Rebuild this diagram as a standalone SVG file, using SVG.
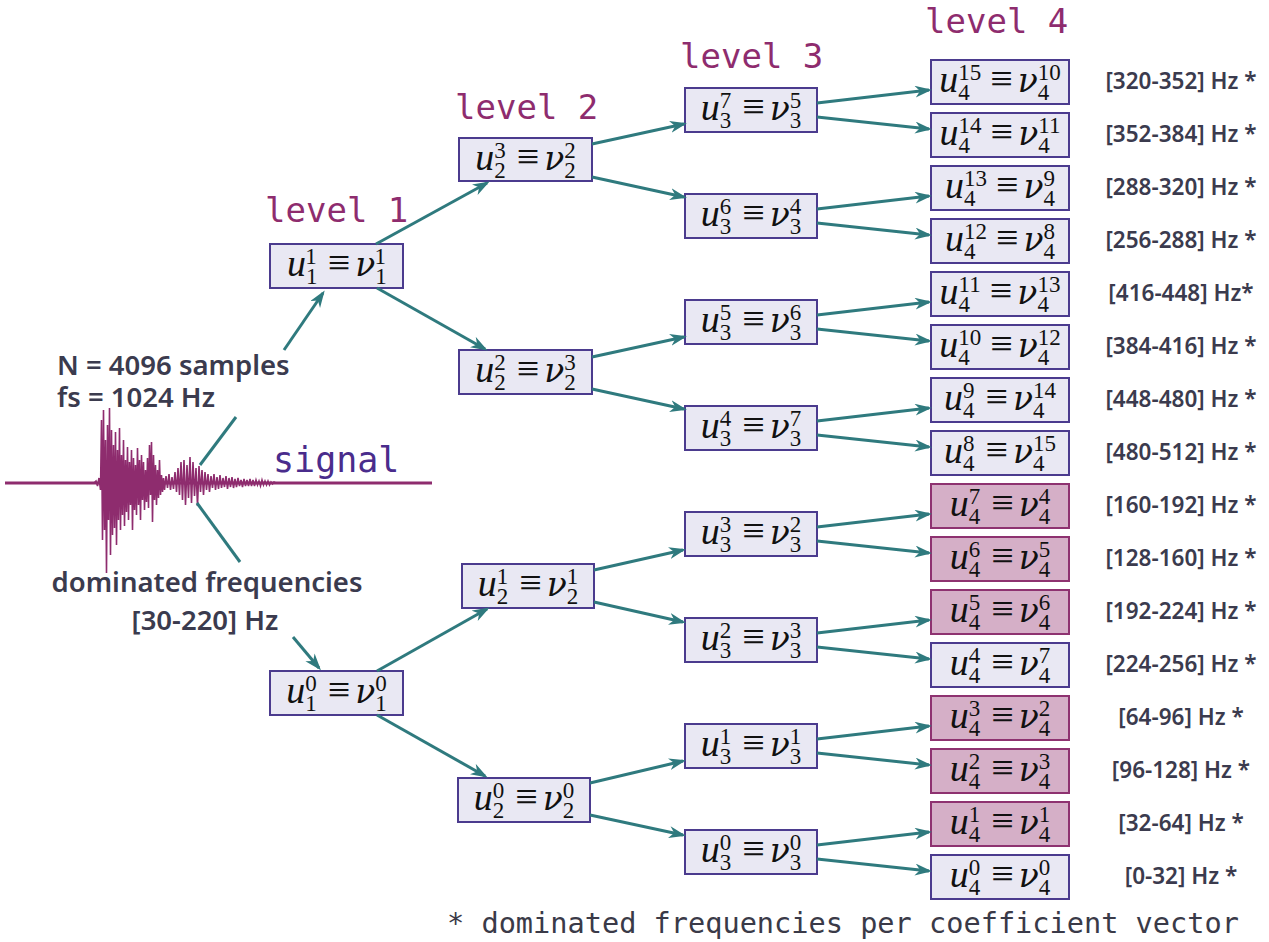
<svg xmlns="http://www.w3.org/2000/svg" width="1269" height="942" viewBox="0 0 1269 942">
<style>
.b{fill:#e9e8f3;stroke:#4b3b8e;stroke-width:2}
.p{fill:#d5afc7;stroke:#8e3270;stroke-width:2}
.mt{font-family:"Liberation Serif",serif;font-size:38px;text-anchor:middle;fill:#111}
.i{font-style:italic}
.n{font-family:"DejaVu Serif",serif;font-style:italic;font-size:33px}
.s{font-size:23px}
.eq{font-size:40px}
.hz{font-family:"Noto Sans",sans-serif;font-weight:600;font-size:22.5px;fill:#3b3b4e;text-anchor:middle}
.lt{font-family:"Noto Sans",sans-serif;font-weight:600;font-size:27.5px;fill:#3b3b4e}
.lv{font-family:"DejaVu Sans Mono",monospace;font-size:34px;fill:#8e2c6e}
.c path{fill:none;stroke:#2f7a7e;stroke-width:3}
.c path.a{marker-end:url(#ah)}
</style>
<defs>
<marker id="ah" markerUnits="userSpaceOnUse" markerWidth="18" markerHeight="13" refX="14" refY="6" orient="auto">
<path d="M0,0 L17,6 L0,12 L5,6 z" fill="#2f7a7e"/>
</marker>
</defs>
<rect width="1269" height="942" fill="#fff"/>

<g id="signal">
<path d="M5,483 H432" stroke="#8e2c6e" stroke-width="3" fill="none"/>
<path fill="none" stroke="#8e2c6e" stroke-width="1.6" d="M94,483 L96,481 L97.5,486 L99,478 L100.5,490 L101.5,420 L102.5,540 L103.5,410 L104.5,530 L105.5,440 L106.5,573 L107.5,425 L108.5,520 L109.5,408 L110.5,555 L111.5,430 L112.5,535 L113.5,445 L114.5,528 L115.5,432 L116.5,545 L117.5,450 L118.5,520 L119.5,428 L120.5,530 L121.5,455 L122.5,515 L123.5,440 L124.5,526 L125.5,460 L126.5,512 L127.5,447 L128.5,520 L129.5,462 L130.5,505 L131.5,450 L132.5,530 L133.5,458 L134.5,510 L135.5,465 L136.5,515 L137.5,448 L138.5,505 L139.5,460 L140.5,520 L141.5,455 L142.5,500 L143.5,462 L144.5,510 L145.5,470 L146.5,502 L147.5,458 L148.5,508 L149.5,445 L150.5,495 L151.5,442 L152.5,522 L153.5,455 L154.5,500 L155.5,465 L156.5,505 L157.5,470 L158.5,498 L159.5,460 L160.5,495 L161.5,475 L162.5,492 L163.5,478 L164.5,490 L166,476 L167.5,488 L169,474 L170.5,490 L172,477 L173.5,489 L175,472 L176.5,492 L178,468 L179.5,495 L181,462 L182.5,500 L184,460 L185.5,505 L187,465 L188.5,498 L190,457 L191.5,503 L193,462 L194.5,496 L196,468 L197.5,506 L199,466 L200.5,492 L202,470 L203.5,495 L205,472 L206.5,490 L208,474 L209.5,492 L211,476 L212.5,488 L214,474 L215.5,490 L217,477 L218.5,489 L220,475 L221.5,488 L223,478 L224.5,487 L226,476 L227.5,489 L229,478 L230.5,487 L232,477 L233.5,488 L235,479 L236.5,487 L238,478 L239.5,486 L241,480 L242.5,487 L244,479 L245.5,486 L247,480 L248.5,486 L250,479 L251.5,486 L253,480 L254.5,486 L256,480 L257.5,485 L259,481 L260.5,486 L262,480 L263.5,485 L265,481 L266.5,485 L268,481 L269.5,485 L271,482 L272.5,484 L274,482 L276,483"/>
<text x="273" y="472" style="font-family:'DejaVu Sans Mono',monospace;font-size:35px;fill:#4a2c8c">signal</text>
<text class="lt" x="57" y="375">N = 4096 samples</text>
<text class="lt" x="57" y="407">fs = 1024 Hz</text>
<text class="lt" x="207" y="592" text-anchor="middle">dominated frequencies</text>
<text class="lt" x="205" y="630" text-anchor="middle">[30-220] Hz</text>
</g>

<g id="levels">
<text class="lv" x="265" y="222">level 1</text>
<text class="lv" x="455" y="119">level 2</text>
<text class="lv" x="680" y="68">level 3</text>
<text class="lv" x="925" y="33">level 4</text>
</g>

<g id="n1_1"><rect class="b" x="270" y="244" width="133" height="44"/><text class="mt" x="336.5" y="276"><tspan class="i">u</tspan><tspan class="s" dy="8">1</tspan><tspan class="s" dx="-11.5" dy="-20">1</tspan><tspan class="eq" dx="11" dy="12">≡</tspan><tspan class="n" dx="5">ν</tspan><tspan class="s" dy="8">1</tspan><tspan class="s" dx="-11.5" dy="-20">1</tspan></text></g>
<g id="n1_0"><rect class="b" x="270" y="671" width="133" height="44"/><text class="mt" x="336.5" y="703"><tspan class="i">u</tspan><tspan class="s" dy="8">1</tspan><tspan class="s" dx="-11.5" dy="-20">0</tspan><tspan class="eq" dx="11" dy="12">≡</tspan><tspan class="n" dx="5">ν</tspan><tspan class="s" dy="8">1</tspan><tspan class="s" dx="-11.5" dy="-20">0</tspan></text></g>

<g id="n2_3"><rect class="b" x="459" y="138" width="133" height="43"/><text class="mt" x="525.5" y="170"><tspan class="i">u</tspan><tspan class="s" dy="8">2</tspan><tspan class="s" dx="-11.5" dy="-20">3</tspan><tspan class="eq" dx="11" dy="12">≡</tspan><tspan class="n" dx="5">ν</tspan><tspan class="s" dy="8">2</tspan><tspan class="s" dx="-11.5" dy="-20">2</tspan></text></g>
<g id="n2_2"><rect class="b" x="459" y="350" width="133" height="44"/><text class="mt" x="525.5" y="382"><tspan class="i">u</tspan><tspan class="s" dy="8">2</tspan><tspan class="s" dx="-11.5" dy="-20">2</tspan><tspan class="eq" dx="11" dy="12">≡</tspan><tspan class="n" dx="5">ν</tspan><tspan class="s" dy="8">2</tspan><tspan class="s" dx="-11.5" dy="-20">3</tspan></text></g>
<g id="n2_1"><rect class="b" x="462" y="564" width="132" height="44"/><text class="mt" x="528" y="596"><tspan class="i">u</tspan><tspan class="s" dy="8">2</tspan><tspan class="s" dx="-11.5" dy="-20">1</tspan><tspan class="eq" dx="11" dy="12">≡</tspan><tspan class="n" dx="5">ν</tspan><tspan class="s" dy="8">2</tspan><tspan class="s" dx="-11.5" dy="-20">1</tspan></text></g>
<g id="n2_0"><rect class="b" x="458" y="778" width="132" height="44"/><text class="mt" x="524" y="810"><tspan class="i">u</tspan><tspan class="s" dy="8">2</tspan><tspan class="s" dx="-11.5" dy="-20">0</tspan><tspan class="eq" dx="11" dy="12">≡</tspan><tspan class="n" dx="5">ν</tspan><tspan class="s" dy="8">2</tspan><tspan class="s" dx="-11.5" dy="-20">0</tspan></text></g>

<g id="n3_7"><rect class="b" x="685" y="88" width="132" height="44"/><text class="mt" x="751" y="120"><tspan class="i">u</tspan><tspan class="s" dy="8">3</tspan><tspan class="s" dx="-11.5" dy="-20">7</tspan><tspan class="eq" dx="11" dy="12">≡</tspan><tspan class="n" dx="5">ν</tspan><tspan class="s" dy="8">3</tspan><tspan class="s" dx="-11.5" dy="-20">5</tspan></text></g>
<g id="n3_6"><rect class="b" x="685" y="194" width="132" height="44"/><text class="mt" x="751" y="226"><tspan class="i">u</tspan><tspan class="s" dy="8">3</tspan><tspan class="s" dx="-11.5" dy="-20">6</tspan><tspan class="eq" dx="11" dy="12">≡</tspan><tspan class="n" dx="5">ν</tspan><tspan class="s" dy="8">3</tspan><tspan class="s" dx="-11.5" dy="-20">4</tspan></text></g>
<g id="n3_5"><rect class="b" x="685" y="300" width="132" height="44"/><text class="mt" x="751" y="332"><tspan class="i">u</tspan><tspan class="s" dy="8">3</tspan><tspan class="s" dx="-11.5" dy="-20">5</tspan><tspan class="eq" dx="11" dy="12">≡</tspan><tspan class="n" dx="5">ν</tspan><tspan class="s" dy="8">3</tspan><tspan class="s" dx="-11.5" dy="-20">6</tspan></text></g>
<g id="n3_4"><rect class="b" x="685" y="406" width="132" height="44"/><text class="mt" x="751" y="438"><tspan class="i">u</tspan><tspan class="s" dy="8">3</tspan><tspan class="s" dx="-11.5" dy="-20">4</tspan><tspan class="eq" dx="11" dy="12">≡</tspan><tspan class="n" dx="5">ν</tspan><tspan class="s" dy="8">3</tspan><tspan class="s" dx="-11.5" dy="-20">7</tspan></text></g>
<g id="n3_3"><rect class="b" x="685" y="512" width="132" height="44"/><text class="mt" x="751" y="544"><tspan class="i">u</tspan><tspan class="s" dy="8">3</tspan><tspan class="s" dx="-11.5" dy="-20">3</tspan><tspan class="eq" dx="11" dy="12">≡</tspan><tspan class="n" dx="5">ν</tspan><tspan class="s" dy="8">3</tspan><tspan class="s" dx="-11.5" dy="-20">2</tspan></text></g>
<g id="n3_2"><rect class="b" x="685" y="618" width="132" height="44"/><text class="mt" x="751" y="650"><tspan class="i">u</tspan><tspan class="s" dy="8">3</tspan><tspan class="s" dx="-11.5" dy="-20">2</tspan><tspan class="eq" dx="11" dy="12">≡</tspan><tspan class="n" dx="5">ν</tspan><tspan class="s" dy="8">3</tspan><tspan class="s" dx="-11.5" dy="-20">3</tspan></text></g>
<g id="n3_1"><rect class="b" x="685" y="724" width="132" height="44"/><text class="mt" x="751" y="756"><tspan class="i">u</tspan><tspan class="s" dy="8">3</tspan><tspan class="s" dx="-11.5" dy="-20">1</tspan><tspan class="eq" dx="11" dy="12">≡</tspan><tspan class="n" dx="5">ν</tspan><tspan class="s" dy="8">3</tspan><tspan class="s" dx="-11.5" dy="-20">1</tspan></text></g>
<g id="n3_0"><rect class="b" x="685" y="830" width="132" height="44"/><text class="mt" x="751" y="862"><tspan class="i">u</tspan><tspan class="s" dy="8">3</tspan><tspan class="s" dx="-11.5" dy="-20">0</tspan><tspan class="eq" dx="11" dy="12">≡</tspan><tspan class="n" dx="5">ν</tspan><tspan class="s" dy="8">3</tspan><tspan class="s" dx="-11.5" dy="-20">0</tspan></text></g>

<g id="n4_15"><rect class="b" x="931" y="60" width="138" height="44"/><text class="mt" x="1000" y="92"><tspan class="i">u</tspan><tspan class="s" dy="8">4</tspan><tspan class="s" dx="-11.5" dy="-20">15</tspan><tspan class="eq" dx="9" dy="12">≡</tspan><tspan class="n" dx="5">ν</tspan><tspan class="s" dy="8">4</tspan><tspan class="s" dx="-11.5" dy="-20">10</tspan></text></g>
<g id="n4_14"><rect class="b" x="931" y="113" width="138" height="44"/><text class="mt" x="1000" y="145"><tspan class="i">u</tspan><tspan class="s" dy="8">4</tspan><tspan class="s" dx="-11.5" dy="-20">14</tspan><tspan class="eq" dx="9" dy="12">≡</tspan><tspan class="n" dx="5">ν</tspan><tspan class="s" dy="8">4</tspan><tspan class="s" dx="-11.5" dy="-20">11</tspan></text></g>
<g id="n4_13"><rect class="b" x="931" y="166" width="138" height="44"/><text class="mt" x="1000" y="198"><tspan class="i">u</tspan><tspan class="s" dy="8">4</tspan><tspan class="s" dx="-11.5" dy="-20">13</tspan><tspan class="eq" dx="9" dy="12">≡</tspan><tspan class="n" dx="5">ν</tspan><tspan class="s" dy="8">4</tspan><tspan class="s" dx="-11.5" dy="-20">9</tspan></text></g>
<g id="n4_12"><rect class="b" x="931" y="219" width="138" height="44"/><text class="mt" x="1000" y="251"><tspan class="i">u</tspan><tspan class="s" dy="8">4</tspan><tspan class="s" dx="-11.5" dy="-20">12</tspan><tspan class="eq" dx="9" dy="12">≡</tspan><tspan class="n" dx="5">ν</tspan><tspan class="s" dy="8">4</tspan><tspan class="s" dx="-11.5" dy="-20">8</tspan></text></g>
<g id="n4_11"><rect class="b" x="931" y="272" width="138" height="44"/><text class="mt" x="1000" y="304"><tspan class="i">u</tspan><tspan class="s" dy="8">4</tspan><tspan class="s" dx="-11.5" dy="-20">11</tspan><tspan class="eq" dx="9" dy="12">≡</tspan><tspan class="n" dx="5">ν</tspan><tspan class="s" dy="8">4</tspan><tspan class="s" dx="-11.5" dy="-20">13</tspan></text></g>
<g id="n4_10"><rect class="b" x="931" y="325" width="138" height="44"/><text class="mt" x="1000" y="357"><tspan class="i">u</tspan><tspan class="s" dy="8">4</tspan><tspan class="s" dx="-11.5" dy="-20">10</tspan><tspan class="eq" dx="9" dy="12">≡</tspan><tspan class="n" dx="5">ν</tspan><tspan class="s" dy="8">4</tspan><tspan class="s" dx="-11.5" dy="-20">12</tspan></text></g>
<g id="n4_9"><rect class="b" x="931" y="378" width="138" height="44"/><text class="mt" x="1000" y="410"><tspan class="i">u</tspan><tspan class="s" dy="8">4</tspan><tspan class="s" dx="-11.5" dy="-20">9</tspan><tspan class="eq" dx="11" dy="12">≡</tspan><tspan class="n" dx="5">ν</tspan><tspan class="s" dy="8">4</tspan><tspan class="s" dx="-11.5" dy="-20">14</tspan></text></g>
<g id="n4_8"><rect class="b" x="931" y="431" width="138" height="44"/><text class="mt" x="1000" y="463"><tspan class="i">u</tspan><tspan class="s" dy="8">4</tspan><tspan class="s" dx="-11.5" dy="-20">8</tspan><tspan class="eq" dx="11" dy="12">≡</tspan><tspan class="n" dx="5">ν</tspan><tspan class="s" dy="8">4</tspan><tspan class="s" dx="-11.5" dy="-20">15</tspan></text></g>
<g id="n4_7"><rect class="p" x="931" y="484" width="138" height="44"/><text class="mt" x="1000" y="516"><tspan class="i">u</tspan><tspan class="s" dy="8">4</tspan><tspan class="s" dx="-11.5" dy="-20">7</tspan><tspan class="eq" dx="11" dy="12">≡</tspan><tspan class="n" dx="5">ν</tspan><tspan class="s" dy="8">4</tspan><tspan class="s" dx="-11.5" dy="-20">4</tspan></text></g>
<g id="n4_6"><rect class="p" x="931" y="537" width="138" height="44"/><text class="mt" x="1000" y="569"><tspan class="i">u</tspan><tspan class="s" dy="8">4</tspan><tspan class="s" dx="-11.5" dy="-20">6</tspan><tspan class="eq" dx="11" dy="12">≡</tspan><tspan class="n" dx="5">ν</tspan><tspan class="s" dy="8">4</tspan><tspan class="s" dx="-11.5" dy="-20">5</tspan></text></g>
<g id="n4_5"><rect class="p" x="931" y="590" width="138" height="44"/><text class="mt" x="1000" y="622"><tspan class="i">u</tspan><tspan class="s" dy="8">4</tspan><tspan class="s" dx="-11.5" dy="-20">5</tspan><tspan class="eq" dx="11" dy="12">≡</tspan><tspan class="n" dx="5">ν</tspan><tspan class="s" dy="8">4</tspan><tspan class="s" dx="-11.5" dy="-20">6</tspan></text></g>
<g id="n4_4"><rect class="b" x="931" y="643" width="138" height="44"/><text class="mt" x="1000" y="675"><tspan class="i">u</tspan><tspan class="s" dy="8">4</tspan><tspan class="s" dx="-11.5" dy="-20">4</tspan><tspan class="eq" dx="11" dy="12">≡</tspan><tspan class="n" dx="5">ν</tspan><tspan class="s" dy="8">4</tspan><tspan class="s" dx="-11.5" dy="-20">7</tspan></text></g>
<g id="n4_3"><rect class="p" x="931" y="696" width="138" height="44"/><text class="mt" x="1000" y="728"><tspan class="i">u</tspan><tspan class="s" dy="8">4</tspan><tspan class="s" dx="-11.5" dy="-20">3</tspan><tspan class="eq" dx="11" dy="12">≡</tspan><tspan class="n" dx="5">ν</tspan><tspan class="s" dy="8">4</tspan><tspan class="s" dx="-11.5" dy="-20">2</tspan></text></g>
<g id="n4_2"><rect class="p" x="931" y="749" width="138" height="44"/><text class="mt" x="1000" y="781"><tspan class="i">u</tspan><tspan class="s" dy="8">4</tspan><tspan class="s" dx="-11.5" dy="-20">2</tspan><tspan class="eq" dx="11" dy="12">≡</tspan><tspan class="n" dx="5">ν</tspan><tspan class="s" dy="8">4</tspan><tspan class="s" dx="-11.5" dy="-20">3</tspan></text></g>
<g id="n4_1"><rect class="p" x="931" y="802" width="138" height="44"/><text class="mt" x="1000" y="834"><tspan class="i">u</tspan><tspan class="s" dy="8">4</tspan><tspan class="s" dx="-11.5" dy="-20">1</tspan><tspan class="eq" dx="11" dy="12">≡</tspan><tspan class="n" dx="5">ν</tspan><tspan class="s" dy="8">4</tspan><tspan class="s" dx="-11.5" dy="-20">1</tspan></text></g>
<g id="n4_0"><rect class="b" x="931" y="855" width="138" height="44"/><text class="mt" x="1000" y="887"><tspan class="i">u</tspan><tspan class="s" dy="8">4</tspan><tspan class="s" dx="-11.5" dy="-20">0</tspan><tspan class="eq" dx="11" dy="12">≡</tspan><tspan class="n" dx="5">ν</tspan><tspan class="s" dy="8">4</tspan><tspan class="s" dx="-11.5" dy="-20">0</tspan></text></g>

<g id="freq-labels">
<text class="hz" x="1181" y="89">[320-352] Hz *</text>
<text class="hz" x="1181" y="142">[352-384] Hz *</text>
<text class="hz" x="1181" y="195">[288-320] Hz *</text>
<text class="hz" x="1181" y="248">[256-288] Hz *</text>
<text class="hz" x="1181" y="301">[416-448] Hz*</text>
<text class="hz" x="1181" y="354">[384-416] Hz *</text>
<text class="hz" x="1181" y="407">[448-480] Hz *</text>
<text class="hz" x="1181" y="460">[480-512] Hz *</text>
<text class="hz" x="1181" y="513">[160-192] Hz *</text>
<text class="hz" x="1181" y="566">[128-160] Hz *</text>
<text class="hz" x="1181" y="619">[192-224] Hz *</text>
<text class="hz" x="1181" y="672">[224-256] Hz *</text>
<text class="hz" x="1181" y="725">[64-96] Hz *</text>
<text class="hz" x="1181" y="778">[96-128] Hz *</text>
<text class="hz" x="1181" y="831">[32-64] Hz *</text>
<text class="hz" x="1181" y="884">[0-32] Hz *</text>
</g>

<text x="447" y="933" style="font-family:'DejaVu Sans Mono',monospace;font-size:28.6px;fill:#3a3a48">* dominated frequencies per coefficient vector</text>

<g id="connectors" class="c">
<path d="M200,465 L236,417"/>
<path class="a" d="M284,350 L323,293"/>
<path d="M197,503 L240,562"/>
<path class="a" d="M293,637 L319,668"/>
<path class="a" d="M376,244 L487,183"/>
<path class="a" d="M377,288 L485,349"/>
<path class="a" d="M377,671 L487,609"/>
<path class="a" d="M377,715 L485,776"/>
<path class="a" d="M592,144 L684,124"/>
<path class="a" d="M592,177 L684,197"/>
<path class="a" d="M592,357 L684,337"/>
<path class="a" d="M592,389 L684,409"/>
<path class="a" d="M594,570 L683,550"/>
<path class="a" d="M594,602 L683,622"/>
<path class="a" d="M590,783 L683,761"/>
<path class="a" d="M590,815 L683,835"/>
<path class="a" d="M817,103 L929,90"/>
<path class="a" d="M817,117 L929,129"/>
<path class="a" d="M817,209 L929,196"/>
<path class="a" d="M817,223 L929,235"/>
<path class="a" d="M817,315 L929,302"/>
<path class="a" d="M817,329 L929,341"/>
<path class="a" d="M817,421 L929,408"/>
<path class="a" d="M817,435 L929,447"/>
<path class="a" d="M817,527 L929,514"/>
<path class="a" d="M817,541 L929,553"/>
<path class="a" d="M817,633 L929,620"/>
<path class="a" d="M817,647 L929,659"/>
<path class="a" d="M817,739 L929,726"/>
<path class="a" d="M817,753 L929,765"/>
<path class="a" d="M817,845 L929,832"/>
<path class="a" d="M817,859 L929,871"/>
</g>
</svg>
